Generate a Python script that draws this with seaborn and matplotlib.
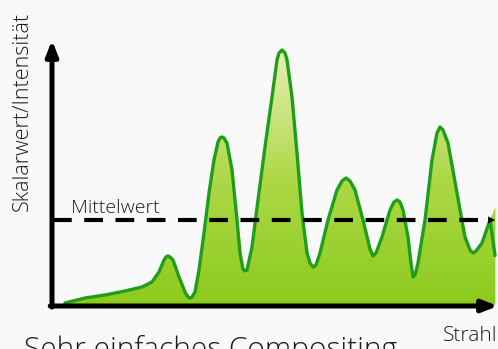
import numpy as np
import pandas as pd
import matplotlib
matplotlib.use("Agg")
import matplotlib.pyplot as plt
import seaborn as sns
from matplotlib.colors import LinearSegmentedColormap

# Strahlposition und Intensität
strahl_pos = [13, 33, 53, 73, 90, 100, 107, 112, 114, 116, 118, 121, 127, 133, 136, 138,
              140, 143, 147, 152, 157, 162, 166, 168, 170, 172, 175, 180, 185, 188, 191,
              193, 195, 200, 206, 213, 220, 225, 227, 230, 233, 235, 240, 245, 250, 255,
              258, 261, 264, 268, 276, 285, 290, 294, 298, 303, 311, 318, 321, 324, 330,
              338, 342, 345, 348, 351, 356, 359, 361, 363, 366, 373, 380, 385, 388, 391,
              396, 405, 413, 418, 421, 424, 430, 438, 443, 443]
intensitaet = [2, 7, 10, 14, 18, 23, 33, 45, 48, 49, 48, 45, 28, 13, 8, 7,
               8, 13, 35, 72, 112, 145, 163, 167, 168, 167, 162, 135, 85, 52, 36,
               34, 35, 58, 105, 158, 208, 245, 252, 255, 252, 245, 208, 152, 92, 52,
               42, 38, 40, 52, 85, 115, 124, 127, 124, 115, 85, 56, 49, 52, 68,
               95, 103, 105, 103, 95, 68, 42, 28, 30, 42, 85, 145, 172, 178, 175,
               162, 112, 68, 55, 52, 54, 62, 85, 97, 2]
mittelwert = 85

df = pd.DataFrame({"Strahl": strahl_pos, "Intensität": intensitaet})

sns.set_style("white")
plt.rcParams['font.family'] = ['Open Sans', 'DejaVu Sans']

bg = '#f8f9f8'
txt = '#1c1c1c'
fig = plt.figure(figsize=(4.98, 3.49), dpi=100, facecolor=bg)
ax = fig.add_axes([52 / 498, 44 / 349, 446 / 498, 265 / 349])
ax.set_facecolor(bg)
for s in ax.spines.values():
    s.set_visible(False)
ax.set_xticks([])
ax.set_yticks([])

# Verlaufsfüllung unter der Kurve
cmap = LinearSegmentedColormap.from_list("gr", ['#8ccb1c', '#aed848', '#e8f0b4'])
grad = np.linspace(0, 1, 256).reshape(-1, 1)
img = ax.imshow(grad, cmap=cmap, origin='lower', aspect='auto',
                extent=[0, 446, 0, max(intensitaet)], zorder=1)
poly = ax.fill_between(df["Strahl"], df["Intensität"], 0, color='none', zorder=1)
img.set_clip_path(poly.get_paths()[0], transform=ax.transData)
ax.set_xlim(0, 446)
ax.set_ylim(0, 265)

sns.lineplot(data=df, x="Strahl", y="Intensität", sort=False, color='#1f9e1c',
             linewidth=2.4, ax=ax, zorder=3, solid_joinstyle='round')
ax.set_xlabel("")
ax.set_ylabel("")

# Mittelwert
ax.plot([1, 436], [mittelwert, mittelwert], color='black', linewidth=3,
        dashes=(4.5, 3), zorder=4, solid_capstyle='butt')
ax.annotate("", xy=(446, mittelwert), xytext=(436, mittelwert),
            arrowprops=dict(arrowstyle='-|>,head_width=0.25,head_length=0.5',
                            color='black', lw=0.1), zorder=4, annotation_clip=False)
ax.text(19, mittelwert + 3, "Mittelwert", fontsize=14, color=txt,
        va='bottom', ha='left', zorder=5, fontweight='light')

# Achsen mit Pfeilen
ax.annotate("", xy=(0, 265), xytext=(0, -2),
            arrowprops=dict(arrowstyle='-|>,head_width=0.35,head_length=0.9',
                            color='black', lw=3.6, shrinkA=0, shrinkB=0),
            annotation_clip=False, zorder=6)
ax.annotate("", xy=(446, -1), xytext=(-1.8, -1),
            arrowprops=dict(arrowstyle='-|>,head_width=0.35,head_length=0.9',
                            color='black', lw=3.6, shrinkA=0, shrinkB=0),
            annotation_clip=False, zorder=6)

fig.text(22 / 498, 1 - 111 / 349, "Skalarwert/Intensität", rotation=90,
         fontsize=15.5, color=txt, ha='center', va='center', fontweight='light')
fig.text(470 / 498, 1 - 336 / 349, "Strahl", fontsize=15, color=txt,
         ha='center', va='center', fontweight='light')
fig.text(211 / 498, 1 - 335 / 349, "Sehr einfaches Compositing", fontsize=21.5,
         color=txt, ha='center', va='top', fontweight='light')

fig.savefig("out.png", dpi=100, facecolor=bg)
